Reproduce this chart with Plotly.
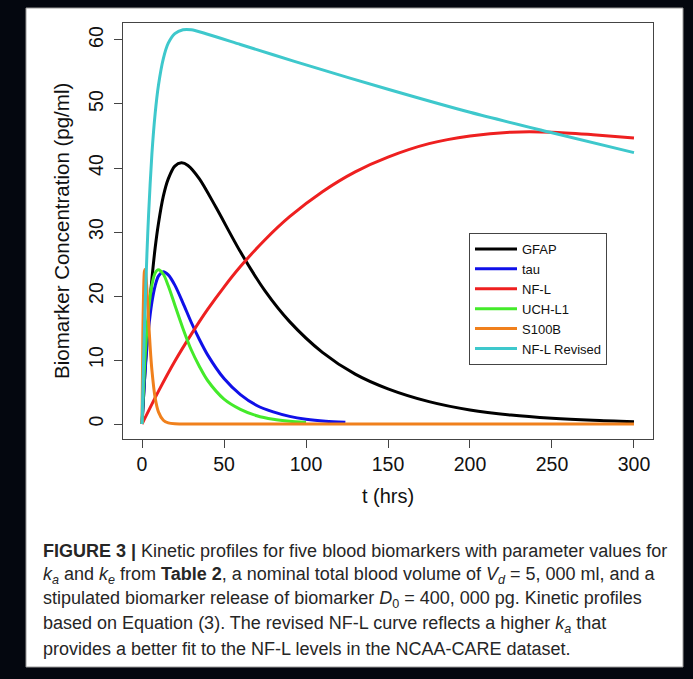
import plotly.graph_objects as go

W, H = 693, 679

# ---- data ----
gfap_t = [0, 2, 4, 6, 8, 10, 13, 16, 20, 24, 28, 35, 45, 60, 75, 90, 110, 130, 150, 175, 200, 225, 250, 275, 300]
gfap_v = [0, 9.1, 16.6, 22.6, 27.5, 31.3, 35.6, 38.3, 40.3, 40.8, 40.4, 38.3, 33.9, 26.9, 20.8, 16.0, 11.2, 7.8, 5.5, 3.5, 2.2, 1.4, 0.9, 0.58, 0.37]

tau_t = [0, 2, 4, 6, 8, 10, 13, 16, 20, 25, 30, 35, 40, 50, 60, 70, 80, 90, 100, 112, 124]
tau_v = [0, 8.7, 14.9, 19.0, 21.6, 23.1, 23.8, 23.3, 21.7, 18.9, 15.9, 13.2, 10.8, 7.1, 4.6, 2.9, 1.9, 1.2, 0.76, 0.44, 0.26]

nfl_t = [0, 10, 20, 30, 40, 50, 60, 75, 90, 110, 130, 150, 175, 200, 225, 250, 275, 300]
nfl_v = [0, 5.1, 9.8, 14.0, 17.9, 21.4, 24.6, 28.8, 32.4, 36.3, 39.4, 41.7, 43.8, 45.0, 45.6, 45.6, 45.2, 44.7]

uch_t = [0, 2, 4, 6, 8, 10, 13, 16, 20, 25, 30, 35, 40, 50, 60, 70, 80, 90, 100]
uch_v = [0, 11.0, 17.8, 21.7, 23.6, 24.1, 23.4, 21.6, 18.6, 14.9, 11.6, 9.0, 6.8, 3.9, 2.3, 1.3, 0.74, 0.42, 0.24]

s100b_t = [0, 0.5, 1, 1.5, 2, 2.5, 3, 4, 5, 6, 8, 10, 13, 16, 20, 30, 60, 100, 150, 200, 250, 300]
s100b_v = [0, 14.0, 21.1, 23.9, 24.2, 22.9, 20.9, 16.2, 11.9, 8.5, 4.1, 1.9, 0.59, 0.18, 0.04, 0, 0, 0, 0, 0, 0, 0]

nflr_t = [0, 1, 2, 3, 4, 6, 8, 10, 13, 16, 20, 25, 30, 40, 60, 80, 100, 150, 200, 250, 300]
nflr_v = [0, 10.5, 19.3, 26.6, 32.7, 42.1, 48.5, 52.9, 57.1, 59.5, 61.0, 61.6, 61.6, 60.9, 59.3, 57.7, 56.1, 52.3, 48.7, 45.5, 42.4]

series_names = ["GFAP", "tau", "NF-L", "UCH-L1", "S100B", "NF-L Revised"]
series_colors = ["#000000", "#1010e8", "#ee2020", "#44ea2a", "#f0801c", "#3ec8cc"]

x_ticks = [0, 50, 100, 150, 200, 250, 300]
y_ticks = [0, 10, 20, 30, 40, 50, 60]

caption_lines = [
    "<b>FIGURE 3 |</b> Kinetic profiles for five blood biomarkers with parameter values for",
    "<i>k<sub>a</sub></i> and <i>k<sub>e</sub></i> from <b>Table 2</b>, a nominal total blood volume of <i>V<sub>d</sub></i> = 5, 000 ml, and a",
    "stipulated biomarker release of biomarker <i>D</i><sub>0</sub> = 400, 000 pg. Kinetic profiles",
    "based on Equation (3). The revised NF-L curve reflects a higher <i>k<sub>a</sub></i> that",
    "provides a better fit to the NF-L levels in the NCAA-CARE dataset.",
]

# ---- figure ----
def px(x):
    return x / W

def py(y):
    return 1 - y / H

FONT = "Liberation Sans, Arial, sans-serif"
BG = "#04070f"

fig = go.Figure()
all_t = [gfap_t, tau_t, nfl_t, uch_t, s100b_t, nflr_t]
all_v = [gfap_v, tau_v, nfl_v, uch_v, s100b_v, nflr_v]
for name, col, tt, vv in zip(series_names, series_colors, all_t, all_v):
    fig.add_trace(go.Scatter(x=tt, y=vv, name=name, mode="lines",
                             line=dict(color=col, width=3, shape="spline", smoothing=0.8)))

# white panel
fig.add_shape(type="rect", xref="paper", yref="paper",
              x0=px(26), x1=px(683), y0=py(667), y1=py(8),
              fillcolor="white", line=dict(color="#9a9a9a", width=1), layer="below")

for i, line in enumerate(caption_lines):
    fig.add_annotation(xref="paper", yref="paper", x=px(41), y=py(551 + i * 24.4),
                       xanchor="left", yanchor="middle", text=line, showarrow=False,
                       font=dict(family=FONT, size=18, color="#262626"))

fig.update_layout(
    width=W, height=H,
    margin=dict(l=0, r=0, t=0, b=0),
    paper_bgcolor=BG,
    plot_bgcolor="white",
    font=dict(family=FONT, color="#111111"),
    showlegend=True,
    legend=dict(x=px(469), y=py(233), xanchor="left", yanchor="top",
                bgcolor="white", bordercolor="#444444", borderwidth=1,
                font=dict(size=13, color="#111111"), itemwidth=42,
                tracegroupgap=0),
    xaxis=dict(domain=[px(123), px(653)], range=[-11.6, 311.6],
               tickvals=x_ticks, ticks="outside", ticklen=8, tickcolor="#444",
               showline=True, linecolor="#444", linewidth=1, mirror=True,
               showgrid=False, zeroline=False,
               tickfont=dict(size=19.5, color="#111"),
               title=dict(text="t (hrs)", font=dict(size=20, color="#111"), standoff=14),
               automargin=False, anchor="y"),
    yaxis=dict(domain=[py(439), py(22.7)], range=[-2.34, 62.7],
               tickvals=y_ticks, ticks="outside", ticklen=8, tickcolor="#444",
               tickangle=-90, ticklabelstandoff=3,
               showline=True, linecolor="#444", linewidth=1, mirror=True,
               showgrid=False, zeroline=False,
               tickfont=dict(size=19.5, color="#111"),
               title=dict(text="Biomarker Concentration (pg/ml)", font=dict(size=20.5, color="#111"), standoff=10),
               automargin=False, anchor="x"),
)

fig.write_html("out.html", config={"displayModeBar": False},
               post_script="document.body.style.margin='0';document.body.style.padding='0';"
                           "document.body.style.background='" + BG + "';"
                           "document.documentElement.style.background='" + BG + "';")
